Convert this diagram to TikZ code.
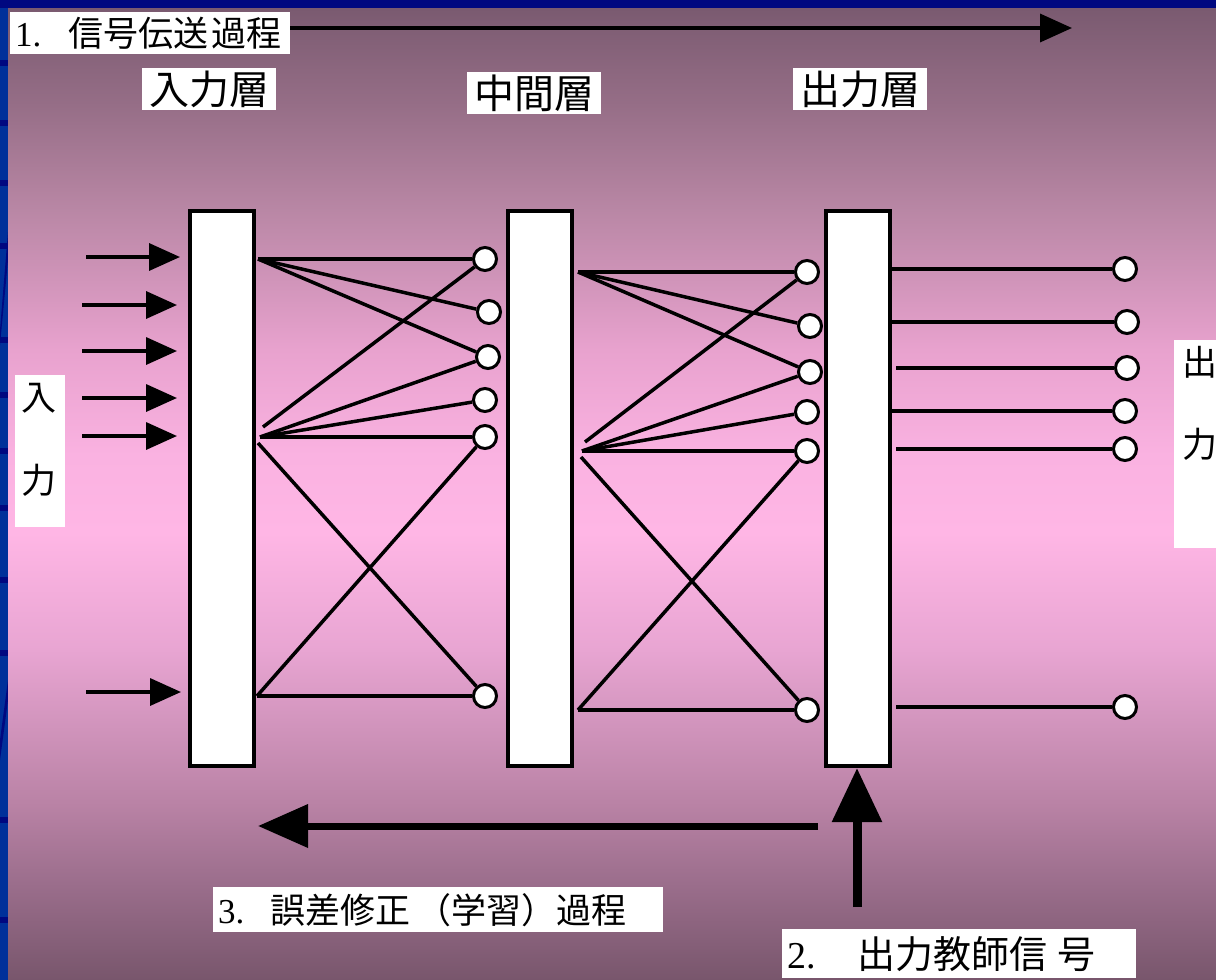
\documentclass[tikz,border=0pt]{standalone}
\usepackage{fontspec}
\setmainfont{Liberation Serif}
\newfontfamily\jp{Noto Sans CJK JP}
\usetikzlibrary{arrows.meta}
\definecolor{bordblue}{RGB}{0,48,154}
\definecolor{bordnavy}{RGB}{0,8,128}
\pgfdeclareverticalshading{bgshade}{100bp}{
  rgb(0bp)=(0.471,0.337,0.424);
  rgb(25bp)=(0.471,0.337,0.424);
  rgb(30bp)=(0.608,0.431,0.549);
  rgb(34bp)=(0.725,0.510,0.647);
  rgb(42bp)=(0.910,0.647,0.824);
  rgb(48bp)=(1.000,0.714,0.898);
  rgb(52bp)=(0.980,0.698,0.882);
  rgb(57.4bp)=(0.910,0.635,0.808);
  rgb(64.6bp)=(0.725,0.529,0.647);
  rgb(70bp)=(0.588,0.431,0.529);
  rgb(75bp)=(0.478,0.353,0.439);
  rgb(100bp)=(0.478,0.353,0.439)}
\begin{document}
\begin{tikzpicture}[x=1pt,y=-1pt,
  layer/.style={draw=black, line width=3.5pt, fill=white, minimum width=64pt, minimum height=555pt, inner sep=0pt},
  neuron/.style={circle, draw=black, line width=3pt, fill=white, minimum size=23pt, inner sep=0pt},
  wire/.style={line width=3.5pt, black},
  inarrow/.style={line width=3.5pt, -{Triangle[length=31pt,width=27pt]}},
  wbox/.style={fill=white, draw=none, inner sep=0pt, anchor=north west},
  tbox/.style={fill=white, draw=none, anchor=north west, inner xsep=5pt, inner ysep=0pt, align=left},
  layerlbl/.style={fill=white, draw=none, inner sep=0pt, minimum width=134pt, minimum height=42pt, font=\jp\fontsize{40}{44}\selectfont},
  sidetxt/.style={inner sep=0pt, font=\jp\fontsize{35}{40}\selectfont},
]
\useasboundingbox (0,0) rectangle (1216,980);
% background
\fill[bordblue] (0,0) rectangle (1216,980);
\fill[bordnavy] (0,0) rectangle (1216,8);
\foreach \yy in {60,120,180,243,337,392,448,505,577,650,817,917}
  \fill[bordnavy] (0,\yy) rectangle (8,\yy+6);
\fill[bordnavy] (0,330) -- (8,232) -- (8,260) -- (0,345) -- cycle;
\fill[bordnavy] (0,740) -- (8,680) -- (8,700) -- (0,760) -- cycle;
\shade[shading=bgshade] (8,8) rectangle (1216,980);

% layers
\node[layer] (L1) at (222,488.5) {};
\node[layer] (L2) at (540,488.5) {};
\node[layer] (L3) at (858,488.5) {};

% layer labels
\node[layerlbl] (lbl1) at (209,89) {入力層};
\node[layerlbl] (lbl2) at (534,93) {中間層};
\node[layerlbl] (lbl3) at (860,89) {出力層};

% top label and arrow
\node[tbox, text width=270pt, minimum height=42pt, font=\fontsize{35}{40}\selectfont] (t1) at (10,12)
  {1.\hspace{27pt}{\jp 信号伝送}\hspace{3pt}{\jp 過程}};
\coordinate (topend) at (1072,28);
\draw[line width=3.5pt, -{Triangle[length=32pt,width=28pt]}] (t1.east |- topend) -- (topend);

% input arrows
\foreach \i/\xa/\xb/\yy in {1/86/180/257, 2/82/177/305, 3/82/177/351, 4/82/177/398, 5/82/177/436, 6/86/181/692} {
  \coordinate (ins\i) at (\xa,\yy);
  \coordinate (ine\i) at (\xb,\yy);
  \draw[inarrow] (ins\i) -- (ine\i);
}

% input side label
\node[wbox, minimum width=50pt, minimum height=152pt] (inbox) at (15,375) {};
\node[sidetxt] (inA) at (39,398) {入};
\node[sidetxt] (inB) at (39,480) {力};

% output side label
\node[wbox, minimum width=60pt, minimum height=208pt] (outbox) at (1174,340) {};
\node[sidetxt] (outA) at (1200,362) {出};
\node[sidetxt] (outB) at (1200,444) {力};

% neurons
\foreach \n/\x/\y in {m1/485/259, m2/489/312, m3/488/357, m4/485/400, m5/485/437, m6/485/696,
                      o1/807/272, o2/810/326, o3/810/372, o4/807/412, o5/807/451, o6/807/710,
                      r1/1125/269, r2/1127/322, r3/1127/368, r4/1125/411, r5/1125/449, r6/1125/707}
  \node[neuron] (\n) at (\x,\y) {};

% stage 1 sources
\coordinate (a1) at (258,259);
\coordinate (b1u) at (263,427);
\coordinate (b1) at (260,437);
\coordinate (b1x) at (258,443);
\coordinate (c1) at (257,696);
\draw[wire] (a1) -- (m1);
\draw[wire] (a1) -- (m2);
\draw[wire] (a1) -- (m3);
\draw[wire] (b1u) -- (m1);
\draw[wire] (b1) -- (m3);
\draw[wire] (b1) -- (m4);
\draw[wire] (b1) -- (m5);
\draw[wire] (b1x) -- (m6);
\draw[wire] (c1) -- (m5);
\draw[wire] (c1) -- (m6);

% stage 2 sources
\coordinate (a2) at (578,272);
\coordinate (b2u) at (585,442);
\coordinate (b2) at (582,451);
\coordinate (b2x) at (581,457);
\coordinate (c2) at (578,710);
\draw[wire] (a2) -- (o1);
\draw[wire] (a2) -- (o2);
\draw[wire] (a2) -- (o3);
\draw[wire] (b2u) -- (o1);
\draw[wire] (b2) -- (o3);
\draw[wire] (b2) -- (o4);
\draw[wire] (b2) -- (o5);
\draw[wire] (b2x) -- (o6);
\draw[wire] (c2) -- (o5);
\draw[wire] (c2) -- (o6);

% outputs
\foreach \i/\xs/\yy in {1/890/269, 2/890/322, 3/896/368, 4/890/411, 5/896/449, 6/896/707} {
  \coordinate (s\i) at (\xs,\yy);
  \draw[wire] (s\i) -- (r\i);
}

% error correction arrow
\coordinate (be) at (818,826);
\coordinate (bt) at (258,826);
\draw[line width=7pt, -{Triangle[length=50pt,width=42pt]}] (be) -- (bt);

% teacher signal arrow
\coordinate (vs) at (857,907);
\coordinate (vt) at (857,768);
\draw[line width=9pt, -{Triangle[length=54pt,width=48pt]}] (vs) -- (vt);

% bottom labels
\node[tbox, text width=440pt, minimum height=45pt, font=\fontsize{35}{40}\selectfont] (t3) at (213,887)
  {3.\hspace{26pt}{\jp 誤差修正}\hspace{6pt}{\jp （学習）過程}};
\node[tbox, text width=344pt, minimum height=49pt, font=\fontsize{38}{42}\selectfont] (t2) at (782,929)
  {2.\hspace{42pt}{\jp 出力教師信}\hspace{10pt}{\jp 号}};
\end{tikzpicture}
\end{document}
